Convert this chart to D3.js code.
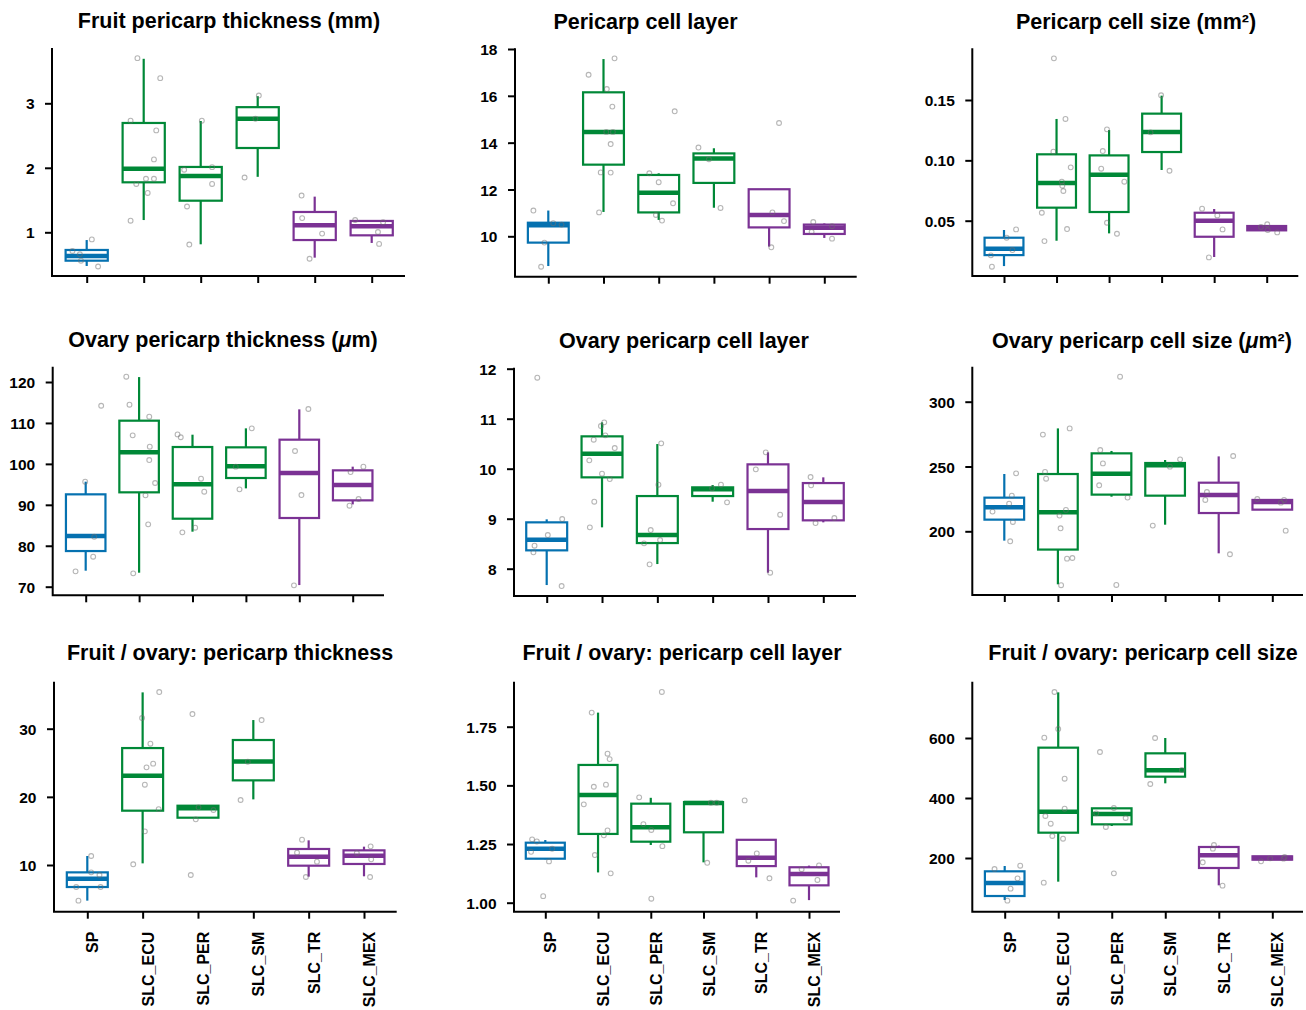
<!DOCTYPE html>
<html>
<head>
<meta charset="utf-8">
<script src="https://cdn.jsdelivr.net/npm/d3@7"></script>
<style>
  body { margin: 0; background: #fff; }
  svg { display: block; }
  text { font-family: "Liberation Sans", Arial, Helvetica, sans-serif; font-weight: bold; fill: #000; }
</style>
</head>
<body>
<svg id="chart" width="1306" height="1010"></svg>
<script>
// ---------------- DATA ----------------
const groups = ["SP", "SLC_ECU", "SLC_PER", "SLC_SM", "SLC_TR", "SLC_MEX"];
const groupColors = ["#0571b0", "#008837", "#008837", "#008837", "#7b3294", "#7b3294"];

const titles = [
  "Fruit pericarp thickness (mm)",
  "Pericarp cell layer",
  "Pericarp cell size (mm²)",
  "Ovary pericarp thickness (μm)",
  "Ovary pericarp cell layer",
  "Ovary pericarp cell size (μm²)",
  "Fruit / ovary: pericarp thickness",
  "Fruit / ovary: pericarp cell layer",
  "Fruit / ovary: pericarp cell size"
];

const yTicks = [
  [1, 2, 3],
  [10, 12, 14, 16, 18],
  [0.05, 0.10, 0.15],
  [70, 80, 90, 100, 110, 120],
  [8, 9, 10, 11, 12],
  [200, 250, 300],
  [10, 20, 30],
  [1.00, 1.25, 1.50, 1.75],
  [200, 400, 600]
];
const yTickDecimals = [0, 0, 2, 0, 0, 0, 0, 2, 0];

// box statistics per group: [whisker low, Q1, median, Q3, whisker high]
const fruitThicknessBox = [
  [0.478, 0.56, 0.633, 0.726, 0.88],
  [1.19, 1.775, 1.987, 2.695, 3.69],
  [0.814, 1.49, 1.873, 2.013, 2.726],
  [1.86, 2.307, 2.762, 2.94, 3.11],
  [0.607, 0.88, 1.108, 1.315, 1.553],
  [0.835, 0.953, 1.093, 1.176, 1.176]
];
const cellLayerBox = [
  [8.73, 9.73, 10.47, 10.58, 11.10],
  [11.04, 13.06, 14.46, 16.15, 17.57],
  [10.70, 11.02, 11.86, 12.62, 12.69],
  [11.22, 12.28, 13.32, 13.54, 13.76],
  [9.56, 10.38, 10.91, 12.01, 12.01],
  [9.93, 10.10, 10.36, 10.50, 10.55]
];
const cellSizeBox = [
  [0.0124, 0.0215, 0.0268, 0.0359, 0.0423],
  [0.0334, 0.0608, 0.0812, 0.105, 0.1343],
  [0.0395, 0.0572, 0.0881, 0.1041, 0.1251],
  [0.092, 0.1069, 0.1235, 0.1387, 0.1536],
  [0.0199, 0.0367, 0.05, 0.0566, 0.0597],
  [0.042, 0.042, 0.0436, 0.0456, 0.0456]
];
const ovaryThicknessBox = [
  [73.91, 78.71, 82.38, 92.56, 95.65],
  [73.42, 93.05, 102.82, 110.55, 121.2],
  [83.44, 86.61, 95.0, 104.12, 107.13],
  [94.02, 96.55, 99.4, 104.04, 108.68],
  [70.4, 86.78, 97.77, 105.91, 113.32],
  [90.11, 91.09, 94.84, 98.42, 99.32]
];
const ovaryCellLayerBox = [
  [7.673, 8.367, 8.58, 8.927, 8.987],
  [8.827, 9.827, 10.3, 10.647, 10.927],
  [8.093, 8.513, 8.673, 9.453, 10.493],
  [9.34, 9.453, 9.587, 9.627, 9.673],
  [7.92, 8.793, 9.553, 10.087, 10.327],
  [8.927, 8.967, 9.333, 9.713, 9.827]
];
const ovaryCellSizeBox = [
  [192.8, 209.0, 218.5, 225.96, 244.2],
  [159.1, 185.9, 214.65, 244.2, 279.4],
  [226.7, 228.3, 244.5, 260.15, 262],
  [205.1, 227.5, 250.9, 252.7, 255],
  [183, 214.1, 228, 237.5, 257.8],
  [216.7, 216.7, 222.6, 224.2, 224.2]
];
const ratioThicknessBox = [
  [4.77, 6.77, 8.0, 8.92, 11.32],
  [10.24, 17.97, 23.1, 27.16, 35.33],
  [16.94, 16.94, 18.31, 18.70, 18.70],
  [19.63, 22.42, 25.2, 28.34, 31.27],
  [8.29, 9.9, 11.22, 12.35, 13.62],
  [8.34, 10.15, 11.37, 12.15, 12.69]
];
const ratioCellLayerBox = [
  [1.185, 1.1875, 1.230, 1.2557, 1.267],
  [1.129, 1.293, 1.459, 1.587, 1.81],
  [1.246, 1.26, 1.322, 1.422, 1.447],
  [1.172, 1.30, 1.425, 1.429, 1.429],
  [1.108, 1.156, 1.192, 1.268, 1.268],
  [1.011, 1.074, 1.122, 1.151, 1.158]
];
const ratioCellSizeBox = [
  [60, 73.3, 116.7, 155.6, 173.3],
  [121.1, 284.4, 354.4, 567.8, 752.2],
  [306.7, 312.2, 346.7, 365.6, 365.6],
  [448.9, 471.1, 492.2, 548.9, 600],
  [108.9, 166.7, 208.9, 236.7, 241.1],
  [194.4, 194.4, 200, 205.6, 205.6]
];

// individual observations per group: [value, horizontal jitter in group units]
const fruitThicknessPts = [
  [[0.71,-0.25],[0.66,-0.12],[0.56,-0.10],[0.89,0.09],[0.47,0.20]],
  [[3.70,-0.11],[3.39,0.29],[2.73,-0.23],[2.58,0.22],[2.13,0.18],[1.75,-0.13],[1.83,0.04],[1.83,0.18],[1.61,0.07],[1.18,-0.23]],
  [[2.73,0.02],[1.97,-0.29],[2.01,0.20],[1.75,0.20],[1.40,-0.24],[0.81,-0.20]],
  [[3.12,0.02],[2.76,-0.04],[1.85,-0.23]],
  [[1.57,-0.23],[1.22,-0.22],[0.98,0.13],[0.59,-0.09]],
  [[1.19,-0.29],[1.155,0.20],[1.005,0.11],[0.82,0.13]]
];
const cellLayerPts = [
  [[11.10,-0.27],[10.56,0.09],[10.50,0.24],[9.73,-0.07],[8.70,-0.13]],
  [[17.60,0.20],[16.90,-0.27],[16.29,0.06],[15.54,0.16],[14.46,0.05],[14.46,0.17],[13.94,0.13],[12.73,-0.05],[12.72,0.13],[11.02,-0.08]],
  [[12.69,-0.17],[15.34,0.29],[12.31,0.0],[11.41,0.26],[10.91,-0.05],[10.67,0.06]],
  [[13.79,-0.28],[13.29,-0.09],[11.21,0.12]],
  [[14.84,0.18],[11.02,0.06],[10.65,0.27],[9.53,0.04]],
  [[10.61,-0.20],[10.19,-0.23],[10.43,0.14],[9.90,0.14]]
];
const cellSizePts = [
  [[0.0428,0.23],[0.0359,0.05],[0.0257,0.16],[0.0213,-0.25],[0.0119,-0.23]],
  [[0.1845,-0.05],[0.1343,0.17],[0.1072,-0.06],[0.0942,0.27],[0.0823,0.10],[0.079,0.11],[0.0746,0.13],[0.0566,-0.28],[0.0431,0.20],[0.0331,-0.23]],
  [[0.1257,-0.04],[0.1077,-0.12],[0.0931,-0.15],[0.0823,0.29],[0.0483,-0.04],[0.0392,0.15]],
  [[0.1539,-0.01],[0.1232,-0.21],[0.0914,0.15]],
  [[0.060,-0.23],[0.0544,0.06],[0.0428,0.16],[0.0196,-0.10]],
  [[0.0448,-0.11],[0.047,0.01],[0.0423,0.02],[0.0403,0.20]]
];
const ovaryThicknessPts = [
  [[95.65,-0.01],[82.2,0.16],[77.33,0.14],[73.75,-0.19],[114.2,0.29]],
  [[121.3,-0.24],[114.46,-0.18],[111.53,0.19],[106.97,-0.12],[104.2,0.20],[100.94,0.19],[95.33,0.30],[92.31,0.12],[85.23,0.17],[73.26,-0.11]],
  [[107.2,-0.28],[106.5,-0.22],[96.38,0.16],[93.2,0.22],[84.41,0.05],[83.27,-0.19]],
  [[108.68,0.11],[99.32,-0.19],[93.78,-0.12]],
  [[113.4,0.17],[103.14,-0.08],[92.39,0.04],[70.33,-0.10]],
  [[99.32,0.20],[98.01,-0.04],[91.42,0.11],[89.79,-0.06]]
];
const ovaryCellLayerPts = [
  [[11.82,-0.17],[8.993,0.28],[8.673,0.02],[8.46,-0.22],[8.327,-0.24],[7.653,0.27]],
  [[10.927,0.04],[10.853,-0.02],[10.667,0.06],[10.58,-0.15],[10.413,0.23],[10.167,-0.23],[9.9,0.0],[9.793,0.14],[9.34,-0.14],[8.827,-0.22]],
  [[10.507,0.07],[9.68,0.02],[8.773,-0.12],[8.573,0.05],[8.507,-0.24],[8.087,-0.14]],
  [[9.68,0.15],[9.607,-0.01],[9.327,0.26]],
  [[10.327,-0.04],[9.987,-0.22],[9.08,0.22],[7.92,0.04]],
  [[9.833,-0.23],[9.667,-0.22],[8.913,-0.14],[9.013,0.20]]
];
const ovaryCellSizePts = [
  [[244.7,0.22],[227.5,0.14],[221.3,0.09],[215.2,-0.22],[207.2,0.16],[192.3,0.11]],
  [[279.4,0.22],[274.6,-0.28],[245.8,-0.24],[240.6,-0.22],[216.5,0.15],[212.1,0.03],[202.3,0.05],[178.9,0.17],[179.4,0.27],[158.4,0.06]],
  [[319.3,0.16],[262.7,-0.21],[252.4,-0.16],[235.5,-0.23],[226,0.30],[158.6,0.09]],
  [[255.5,0.28],[249.9,0.09],[204.4,-0.23]],
  [[258.1,0.27],[230.3,-0.22],[224.2,-0.25],[182.3,0.21]],
  [[224.9,-0.28],[224.2,0.22],[222.1,0.16],[200.5,0.25]]
];
const ratioThicknessPts = [
  [[11.32,0.07],[8.92,0.07],[8.53,0.22],[6.77,-0.20],[6.77,0.24],[4.77,-0.16]],
  [[35.38,0.30],[31.56,-0.01],[27.8,0.14],[24.87,0.19],[24.33,0.07],[21.78,0.04],[18.2,0.29],[14.94,0.04],[10.1,-0.17]],
  [[32.15,-0.10],[18.46,0.01],[18.07,0.28],[16.7,-0.04],[8.53,-0.13]],
  [[31.27,0.15],[25.16,-0.10],[19.54,-0.23]],
  [[13.72,-0.12],[11.81,-0.21],[10.49,0.15],[8.24,-0.05]],
  [[12.74,0.12],[11.76,-0.13],[10.83,0.13],[8.24,0.11]]
];
const ratioCellLayerPts = [
  [[1.27,-0.25],[1.261,-0.16],[1.23,0.13],[1.217,-0.27],[1.176,0.07],[1.028,-0.04]],
  [[1.81,-0.12],[1.635,0.18],[1.612,0.22],[1.494,-0.08],[1.503,0.15],[1.419,-0.27],[1.308,0.18],[1.287,0.11],[1.203,-0.06],[1.125,0.24]],
  [[1.449,-0.22],[1.898,0.21],[1.335,-0.14],[1.31,0.01],[1.241,0.22],[1.017,0.01]],
  [[1.426,0.14],[1.426,0.25],[1.17,0.07]],
  [[1.436,-0.22],[1.21,0.01],[1.179,-0.15],[1.104,0.25]],
  [[1.159,0.19],[1.143,-0.14],[1.097,0.16],[1.009,-0.30]]
];
const ratioCellSizePts = [
  [[163.3,-0.19],[174.4,0.29],[132.2,0.24],[97.8,0.11],[57.8,0.05]],
  [[753.3,-0.07],[630,0.0],[601.1,-0.26],[464.4,0.12],[364.4,0.12],[340,-0.24],[314.4,-0.14],[273.3,-0.11],[264.4,0.09],[117.8,-0.27]],
  [[553.3,-0.22],[366.7,0.04],[348.9,-0.29],[333.3,0.26],[303.3,-0.11],[148.9,0.04]],
  [[600,-0.19],[493.3,0.31],[446.7,-0.28]],
  [[243.3,-0.09],[231.1,-0.11],[185.6,-0.30],[107.8,0.07]],
  [[188.9,-0.21],[198.9,-0.04],[203.3,0.23],[197.8,0.21]]
];

const panelBoxes = [fruitThicknessBox, cellLayerBox, cellSizeBox, ovaryThicknessBox, ovaryCellLayerBox, ovaryCellSizeBox, ratioThicknessBox, ratioCellLayerBox, ratioCellSizeBox];
const panelPoints = [fruitThicknessPts, cellLayerPts, cellSizePts, ovaryThicknessPts, ovaryCellLayerPts, ovaryCellSizePts, ratioThicknessPts, ratioCellLayerPts, ratioCellSizePts];

// ---------------- LAYOUT ----------------
const layout = [
  {left: 52,    right: 405,    top: 48,    bottom: 276,   x1: 86.7,   x6: 371.7,  ya: [1, 232.3],    yb: [3, 103.3],    tx: 229,  ty: 27.5},
  {left: 515,   right: 856.7,  top: 48.3,  bottom: 276.7, x1: 548.3,  x6: 824.3,  ya: [10, 236.3],   yb: [18, 49],      tx: 645.5, ty: 28.5},
  {left: 972.3, right: 1298.3, top: 48.3,  bottom: 276,   x1: 1004,   x6: 1266.7, ya: [0.05, 220.7], yb: [0.15, 100],   tx: 1136, ty: 28.5},
  {left: 52.7,  right: 384,    top: 366.7, bottom: 595.3, x1: 85.7,   x6: 352.7,  ya: [70, 586.7],   yb: [120, 382],    tx: 223,  ty: 347},
  {left: 514,   right: 856,    top: 367.7, bottom: 596,   x1: 546.7,  x6: 823.3,  ya: [8, 568.7],    yb: [12, 368.7],   tx: 684,  ty: 347.5},
  {left: 972.3, right: 1303,   top: 366.7, bottom: 595,   x1: 1004.3, x6: 1272.3, ya: [200, 531.3],  yb: [300, 401.7],  tx: 1142, ty: 347.5},
  {left: 54,    right: 396.7,  top: 681.7, bottom: 911.7, x1: 87.3,   x6: 364,    ya: [10, 865],     yb: [30, 728.7],   tx: 230,  ty: 659.5},
  {left: 514,   right: 840,    top: 681.7, bottom: 911.7, x1: 545.3,  x6: 809,    ya: [1, 902.7],    yb: [1.75, 726.7], tx: 682,  ty: 660},
  {left: 972.3, right: 1303,   top: 681.7, bottom: 911.7, x1: 1004.7, x6: 1272.3, ya: [200, 858],    yb: [600, 738],    tx: 1143, ty: 660}
];

const svg = d3.select("#chart");

function addTitle(g, str, x, y) {
  const t = g.append("text").attr("x", x).attr("y", y)
    .attr("text-anchor", "middle").attr("font-size", 21.5);
  const parts = str.split("μ");
  parts.forEach((p, i) => {
    if (i > 0) t.append("tspan").attr("font-style", "italic").text("μ");
    t.append("tspan").text(p);
  });
}

layout.forEach((L, pi) => {
  const g = svg.append("g");
  const x = d3.scaleLinear().domain([0, groups.length - 1]).range([L.x1, L.x6]);
  const y = d3.scaleLinear().domain([L.ya[0], L.yb[0]]).range([L.ya[1], L.yb[1]]);
  const step = (L.x6 - L.x1) / (groups.length - 1);
  const halfW = step * 0.37;

  addTitle(g, titles[pi], L.tx, L.ty);

  // y axis
  const fmt = d3.format("." + yTickDecimals[pi] + "f");
  const yAxis = d3.axisLeft(y).tickValues(yTicks[pi]).tickFormat(fmt).tickSize(7).tickPadding(10.5);
  const ya = g.append("g").attr("transform", `translate(${L.left},0)`).call(yAxis);
  ya.select(".domain").remove();
  ya.selectAll(".tick line").attr("stroke", "#000").attr("stroke-width", 2);
  ya.selectAll(".tick text").attr("font-size", 15.5).attr("font-family", null).attr("fill", "#000").attr("dy", "0.36em");

  // x axis
  const xAxis = d3.axisBottom(x).tickValues(d3.range(groups.length)).tickSize(7).tickFormat("");
  const xa = g.append("g").attr("transform", `translate(0,${L.bottom})`).call(xAxis);
  xa.select(".domain").remove();
  xa.selectAll(".tick line").attr("stroke", "#000").attr("stroke-width", 2);

  // L-shaped frame
  g.append("path")
    .attr("d", `M${L.left},${L.top}V${L.bottom}H${L.right}`)
    .attr("fill", "none").attr("stroke", "#000").attr("stroke-width", 2);

  // x labels (bottom row)
  if (pi >= 6) {
    groups.forEach((name, gi) => {
      g.append("text")
        .attr("transform", `translate(${x(gi) + 11},${L.bottom + 20}) rotate(-90)`)
        .attr("text-anchor", "end").attr("font-size", 16).text(name);
    });
  }

  // boxes
  panelBoxes[pi].forEach((s, gi) => {
    const cx = x(gi), col = groupColors[gi];
    const [lo, q1, med, q3, hi] = s;
    g.append("line").attr("x1", cx).attr("x2", cx).attr("y1", y(q3)).attr("y2", y(hi))
      .attr("stroke", col).attr("stroke-width", 2.2);
    g.append("line").attr("x1", cx).attr("x2", cx).attr("y1", y(q1)).attr("y2", y(lo))
      .attr("stroke", col).attr("stroke-width", 2.2);
    g.append("rect").attr("x", cx - halfW).attr("width", 2 * halfW)
      .attr("y", y(q3)).attr("height", Math.max(0.1, y(q1) - y(q3)))
      .attr("fill", "none").attr("stroke", col).attr("stroke-width", 2.2);
    g.append("line").attr("x1", cx - halfW).attr("x2", cx + halfW).attr("y1", y(med)).attr("y2", y(med))
      .attr("stroke", col).attr("stroke-width", 4.5);
  });

  // points
  panelPoints[pi].forEach((pts, gi) => {
    g.selectAll(null).data(pts).enter().append("circle")
      .attr("cx", d => x(gi + d[1])).attr("cy", d => y(d[0])).attr("r", 2.4)
      .attr("fill", "none").attr("stroke", "rgba(110,110,110,0.5)").attr("stroke-width", 1.1);
  });
});
</script>
</body>
</html>
